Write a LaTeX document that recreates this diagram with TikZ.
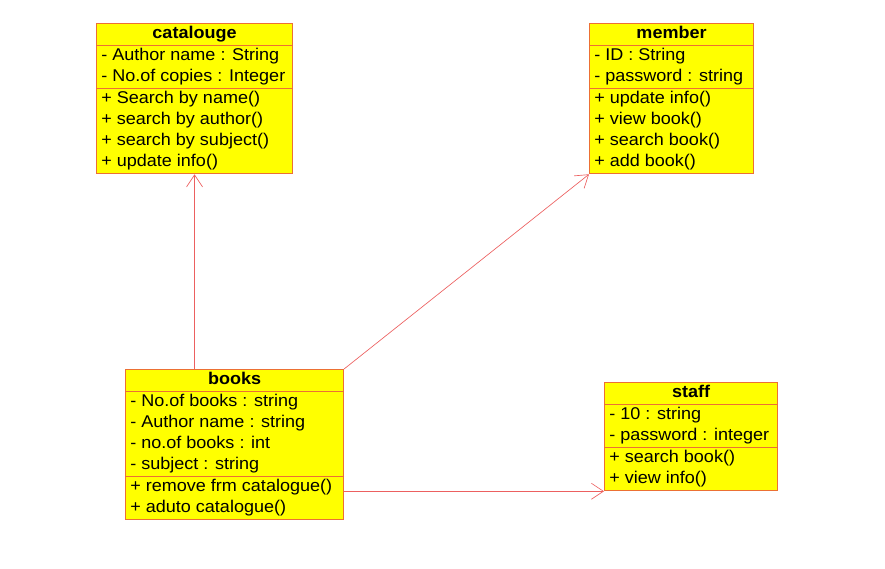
\documentclass[tikz,border=0pt]{standalone}
\usepackage{fontspec}
\setmainfont{Liberation Sans}[FakeStretch=1.06]
\usetikzlibrary{arrows.meta,shapes.multipart}
\definecolor{classyellow}{RGB}{255,255,0}
\definecolor{classred}{RGB}{236,112,52}
\definecolor{linkred}{RGB}{236,96,96}
\begin{document}
\begin{tikzpicture}[x=0.75pt,y=-0.75pt,
  umlclass/.style={rectangle split, rectangle split parts=3, draw=classred, fill=classyellow,
    line width=0.8pt, anchor=north west, minimum width=#1, inner xsep=3.6pt, inner ysep=0pt,
    align=left, rectangle split part align={center,left,left},
    font=\fontsize{12.75}{15.75}\selectfont},
  assoc/.style={draw=linkred, line width=0.5pt, -{Straight Barb[length=9pt,width=12pt]}}]
 	\useasboundingbox (0,0) rectangle (885,568);
 	%catalouge class
 	\node[umlclass=147pt] (catalouge) at (96,23) {\strut\textbf{catalouge}
 	  \nodepart{second}\strut- Author name : String\\\strut- No.of copies : Integer
 	  \nodepart{third}\strut+ Search by name()\\\strut+ search by author()\\\strut+ search by subject()\\\strut+ update info()};
 	%member class
 	\node[umlclass=123pt] (member) at (589,23) {\strut\textbf{member}
 	  \nodepart{second}\strut- ID : String\\\strut- password : string
 	  \nodepart{third}\strut+ update info()\\\strut+ view book()\\\strut+ search book()\\\strut+ add book()};
 	%books class
 	\node[umlclass=163.5pt] (books) at (125,369) {\strut\textbf{books}
 	  \nodepart{second}\strut- No.of books : string\\\strut- Author name : string\\\strut- no.of books : int\\\strut- subject : string
 	  \nodepart{third}\strut+ remove frm catalogue()\\\strut+ aduto catalogue()};
 	%staff class
 	\node[umlclass=130pt] (staff) at (604,382) {\strut\textbf{staff}
 	  \nodepart{second}\strut- 10 : string\\\strut- password : integer
 	  \nodepart{third}\strut+ search book()\\\strut+ view info()};
 	%associations
 	\draw[assoc] (catalouge.south |- books.north) -- (catalouge.south);
 	\draw[assoc] (books.north east) -- (member.south west);
 	\draw[assoc] (books.east |- staff.south west) -- (staff.south west);
\end{tikzpicture}
\end{document}
